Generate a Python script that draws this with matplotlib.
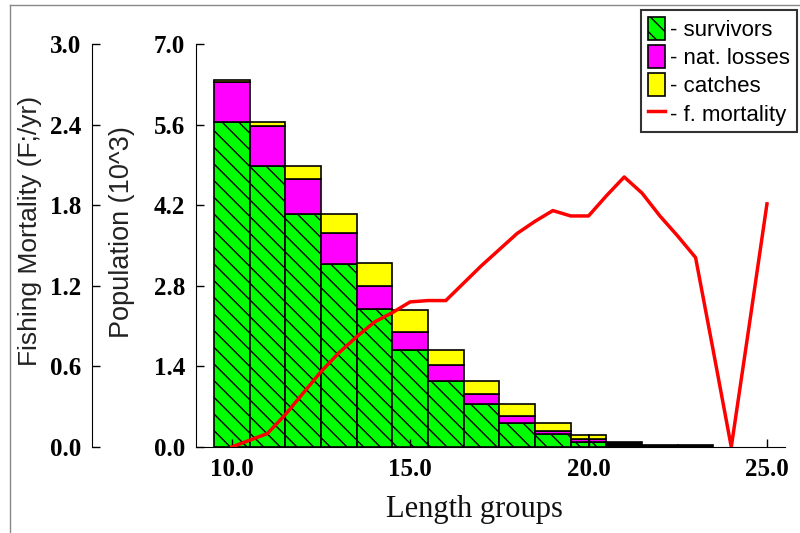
import matplotlib
matplotlib.use('Agg')
import matplotlib.pyplot as plt
from matplotlib.lines import Line2D

# length groups (cm) and stacked population components (10^3)
lengths = [10, 11, 12, 13, 14, 15, 16, 17, 18, 19, 19.75, 20.25]
widths = [1, 1, 1, 1, 1, 1, 1, 1, 1, 1, 0.5, 0.5]
survivors = [5.65, 4.88, 4.05, 3.17, 2.39, 1.68, 1.15, 0.75, 0.41, 0.22, 0.08, 0.08]
nat_losses = [0.69, 0.70, 0.60, 0.54, 0.41, 0.32, 0.27, 0.17, 0.13, 0.06, 0.05, 0.05]
catches = [0.03, 0.07, 0.23, 0.34, 0.39, 0.38, 0.27, 0.23, 0.20, 0.13, 0.08, 0.08]

# tiny remaining groups (drawn black)
tail_lengths = [21, 22, 23]
tail_values = [0.09, 0.03, 0.03]

# fishing mortality (F/yr) by length
f_len = [10, 10.5, 11, 11.5, 12, 12.5, 13, 13.5, 14, 14.5, 15, 15.5, 16, 16.5,
         17, 17.5, 18, 18.5, 19, 19.5, 20, 20.5, 21, 21.5, 22, 22.5, 23, 23.5,
         24, 24.5, 25]
f_mort = [0.0, 0.05, 0.10, 0.24, 0.40, 0.56, 0.70, 0.82, 0.93, 1.00, 1.08, 1.09,
          1.09, 1.22, 1.35, 1.47, 1.59, 1.68, 1.76, 1.72, 1.72, 1.87, 2.01, 1.89,
          1.72, 1.57, 1.41, 0.71, 0.0, 0.90, 1.81]

pop_ticks = [0.0, 1.4, 2.8, 4.2, 5.6, 7.0]
f_ticks = [0.0, 0.6, 1.2, 1.8, 2.4, 3.0]
x_ticks = [10, 15, 20, 25]

plt.rcParams['hatch.linewidth'] = 1.0
serif = 'Liberation Serif'
sans = 'Liberation Sans'

fig = plt.figure(figsize=(8, 5.33), dpi=100)
ax = fig.add_axes([0.245, 0.1614, 0.736, 0.756])

bot2 = [s + n for s, n in zip(survivors, nat_losses)]
b1 = ax.bar(lengths, survivors, width=widths, color='#00ff00', edgecolor='black',
            linewidth=1.2, hatch='\\\\', label='- survivors')
b2 = ax.bar(lengths, nat_losses, width=widths, bottom=survivors, color='#ff00ff',
            edgecolor='black', linewidth=1.2, label='- nat. losses')
b3 = ax.bar(lengths, catches, width=widths, bottom=bot2, color='#ffff00',
            edgecolor='black', linewidth=1.2, label='- catches')
ax.bar(tail_lengths, tail_values, width=1, color='black', edgecolor='black', linewidth=1.2)

ax.set_xlim(9.0, 25.5)
ax.set_ylim(0, 7.0)
ax.set_yticks(pop_ticks)
ax.set_yticklabels(['%.1f' % v for v in pop_ticks])
ax.set_xticks(x_ticks)
ax.set_xticklabels(['%.1f' % v for v in x_ticks])
ax.spines['top'].set_visible(False)
ax.spines['right'].set_visible(False)
ax.tick_params(direction='in', length=6, width=1, pad=8)
for lab in ax.get_xticklabels() + ax.get_yticklabels():
    lab.set_fontfamily(serif)
    lab.set_fontweight('bold')
    lab.set_fontsize(18)

ax2 = ax.twinx()
ax2.set_ylim(0, 3.0)
ln, = ax2.plot(f_len, f_mort, color='#ff0000', lw=2.5, label='- f. mortality')
ax2.spines['right'].set_visible(False)
ax2.spines['top'].set_visible(False)
ax2.spines['bottom'].set_visible(False)
ax2.spines['left'].set_position(('axes', -104 / 589))
ax2.yaxis.set_ticks_position('left')
ax2.set_yticks(f_ticks)
ax2.set_yticklabels(['%.1f' % v for v in f_ticks])
ax2.tick_params(direction='in', length=6, width=1, pad=8)
for lab in ax2.get_yticklabels():
    lab.set_fontfamily(serif)
    lab.set_fontweight('bold')
    lab.set_fontsize(18)

fig.text(30 / 800, 0.567, 'Fishing Mortality (F;/yr)', rotation=90, ha='center',
         va='center', fontsize=19, family=sans, color='#222222')
fig.text(122 / 800, 0.565, 'Population (10^3)', rotation=90, ha='center',
         va='center', fontsize=19.5, family=sans, color='#222222')
fig.text(474 / 800, (533 - 510) / 533, 'Length groups', ha='center', va='center',
         fontsize=22, family=serif, color='#111111')

leg = fig.legend([b1, b2, b3, ln], ['- survivors', '- nat. losses', '- catches', '- f. mortality'],
                 loc='upper right', bbox_to_anchor=(0.996, 0.981),
                 prop={'family': sans, 'size': 16}, fancybox=False, shadow=False,
                 handlelength=0.75, handleheight=1.2, handletextpad=0.25,
                 labelspacing=0.2, borderpad=0.3, borderaxespad=0, framealpha=1)
leg.get_frame().set_edgecolor('#333333')
leg.get_frame().set_linewidth(1.5)

# thin page border (left and top)
fig.add_artist(Line2D([10 / 800, 10 / 800], [0, 1 - 5 / 533], transform=fig.transFigure,
                      color='#888888', lw=1))
fig.add_artist(Line2D([10 / 800, 1], [1 - 5 / 533, 1 - 5 / 533], transform=fig.transFigure,
                      color='#888888', lw=1))

fig.savefig('out.png', dpi=100)
